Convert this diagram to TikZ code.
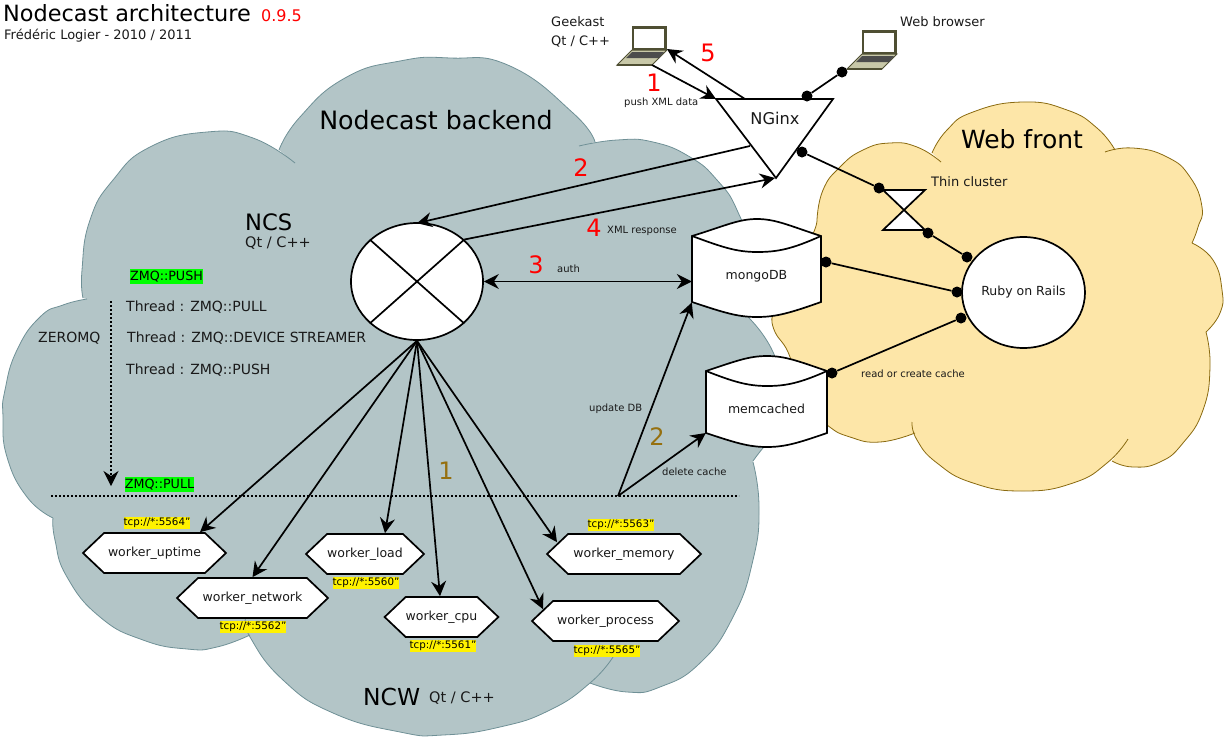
\documentclass[tikz,border=0pt]{standalone}
\usepackage{fontspec}
\setmainfont{DejaVu Sans}
\usetikzlibrary{shapes.geometric,shapes.symbols,arrows.meta,calc}
\definecolor{cloudgrey}{HTML}{B3C5C7}
\definecolor{cloudgreyline}{HTML}{6F9096}
\definecolor{cloudyellow}{HTML}{FDE6A8}
\definecolor{cloudyellowline}{HTML}{8A6A10}
\definecolor{stepbrown}{HTML}{96700F}
\definecolor{lapdark}{HTML}{4F4F33}
\definecolor{lapbase}{HTML}{C8C8A8}
\newcommand\fsz[1]{\fontsize{#1}{#1}\selectfont}
\newcommand\lapicon[2]{%
  \begin{scope}[shift={(#1,#2)}]
    \fill[lapdark] (0,0) rectangle (35,24);
    \fill[white] (2,2.5) rectangle (32,22);
    \filldraw[draw=lapdark,fill=lapbase,line width=1pt] (-15,39) -- (0,24) -- (35,24) -- (20,39) -- cycle;
    \fill[black!70] (-6,32) -- (0,26) -- (32,26) -- (27,32) -- cycle;
    \draw[lapdark,line width=1.6pt] (-15,39) -- (20,39);
  \end{scope}}
\tikzset{
  x=1pt,y=-1pt,
  txt/.style={inner sep=0pt,anchor=west,text=black!90},
  mid/.style={inner sep=0pt,anchor=center,text=black!90},
  num/.style={inner sep=0pt,anchor=center,font=\fsz{24}},
  reddig/.style={num,text=red},
  browndig/.style={num,text=stepbrown},
  conn/.style={line width=1.7pt},
  arr/.style={conn,-{Stealth[length=15pt,width=15pt,inset=5pt]}},
  dblarr/.style={conn,{Stealth[length=15pt,width=15pt,inset=5pt]}-{Stealth[length=15pt,width=15pt,inset=5pt]}},
  dashline/.style={line width=1.3pt,dash pattern=on 2.4pt off 1.6pt},
  dot/.style={circle,fill=black,inner sep=0pt,minimum size=11pt},
  hexa/.style={shape=signal,signal to=east and west,signal pointer angle=87,draw,fill=white,line width=1.7pt,
    inner sep=0pt,minimum height=40pt,font=\fsz{12.5},text=black!90},
  tcp/.style={fill=yellow,inner sep=0pt,minimum width=66pt,minimum height=12pt,font=\fsz{10.3},text=black},
  zmq/.style={fill=green,inner sep=0pt,minimum height=14.5pt,font=\fsz{12.7},text=black},
  hub/.style={ellipse,draw,fill=white,line width=1.7pt,inner sep=0pt},
  store/.style={inner sep=0pt,font=\fsz{12.5},text=black!90},
  lobe/.style={smooth,tension=0.85},
}
% grey cloud lobes
\def\gA{-- plot[lobe] coordinates {(83,298) (82,270) (90,220) (113,180) (150,147) (207,132) (253,138) (295,163)}}
\def\gB{-- plot[lobe] coordinates {(279,150) (300,117) (345,78) (400,61) (450,58) (510,66) (573,113) (595,142)}}
\def\gC{-- plot[lobe] coordinates {(579,146) (617,140) (653,142) (690,157) (717,180) (737,210) (748,250) (749,318)}}
\def\gCb{-- plot[lobe] coordinates {(749,318) (773,352) (786,400) (775,435) (763,448) (753,461)}}
\def\gD{-- plot[lobe] coordinates {(753,462) (759,507) (753,560) (733,617) (700,663) (660,687) (627,692) (590,683)}}
\def\gE{-- plot[lobe] coordinates {(613,657) (590,683) (550,710) (500,727) (443,735) (400,732) (333,713) (283,680) (250,637) (246,618)}}
\def\gF{-- plot[lobe] coordinates {(250,635) (217,647) (187,649) (143,640) (100,617) (67,577) (55,540) (53,518)}}
\def\gG{-- plot[lobe] coordinates {(53,518) (27,497) (7,457) (3,417) (5,390) (17,350) (40,317) (63,305) (87,299)}}
% yellow cloud lobes
\def\yA{-- plot[lobe] coordinates {(817,220) (823,190) (840,167) (863,150) (890,143) (917,147) (941,162)}}
\def\yB{-- plot[lobe] coordinates {(932,153) (947,130) (973,112) (1023,102) (1067,110) (1097,128) (1115,150)}}
\def\yC{-- plot[lobe] coordinates {(1105,152) (1133,148) (1167,157) (1190,177) (1202,207) (1198,227) (1192,243)}}
\def\yD{-- plot[lobe] coordinates {(1192,243) (1213,260) (1222,290) (1220,313) (1206,332)}}
\def\yE{-- plot[lobe] coordinates {(1206,332) (1210,367) (1203,410) (1183,443) (1160,462) (1133,467) (1112,461)}}
\def\yF{-- plot[lobe] coordinates {(1128,439) (1107,463) (1073,483) (1023,491) (973,483) (937,463) (917,440) (912,422)}}
\def\yG{-- plot[lobe] coordinates {(915,433) (880,442) (850,437) (827,425) (800,400) (790,357) (775,332) (772,318)}}
\def\yGb{-- plot[lobe] coordinates {(772,318) (785,280) (810,240) (817,220)}}
\begin{document}
\begin{tikzpicture}
\useasboundingbox (0,0) rectangle (1224,737);
% clouds
\fill[cloudyellow] (817,220) \yA \yB \yC \yD \yE \yF \yG \yGb -- cycle;
\begin{scope}[draw=cloudyellowline,line width=.8pt]
  \draw (817,220) \yA; \draw (932,153) \yB; \draw (1105,152) \yC; \draw (1192,243) \yD;
  \draw (1206,332) \yE; \draw (1128,439) \yF; \draw (915,433) \yG; \draw (772,318) \yGb;
\end{scope}
\fill[cloudgrey] (83,298) \gA \gB \gC \gCb \gD \gE \gF \gG -- cycle;
\begin{scope}[draw=cloudgreyline,line width=.8pt]
  \draw (83,298) \gA; \draw (279,150) \gB; \draw (579,146) \gC; \draw (749,318) \gCb; \draw (753,462) \gD;
  \draw (613,657) \gE; \draw (250,635) \gF; \draw (53,518) \gG;
\end{scope}
% headings
\node[txt,font=\fsz{22.4},text=black] (title) at (3,13) {Nodecast architecture};
\node[txt,font=\fsz{16},text=red] (version) at (261,16) {0.9.5};
\node[txt,font=\fsz{13}] (author) at (4,36) {Frédéric Logier - 2010 / 2011};
\node[mid,font=\fsz{25.3},text=black] (backend) at (436,120) {Nodecast backend};
\node[mid,font=\fsz{25},text=black] (webfront) at (1022,139) {Web front};
\node[txt,font=\fsz{22.6},text=black] (ncslabel) at (245,222) {NCS};
\node[txt,font=\fsz{14.5}] (ncslang) at (245,243) {Qt / C++};
\node[txt,font=\fsz{23.4},text=black] (ncwlabel) at (363,697) {NCW};
\node[txt,font=\fsz{14.5}] (ncwlang) at (429,698) {Qt / C++};
\node[txt,font=\fsz{13}] (geek) at (551,22) {Geekast};
\node[txt,font=\fsz{13}] (geeklang) at (551,42) {Qt / C++};
\node[txt,font=\fsz{13}] (webbrowser) at (900,22) {Web browser};
\node[txt,font=\fsz{13}] (thinlabel) at (931,182) {Thin cluster};
% laptops
\lapicon{632}{26}
\lapicon{862}{30}
\node[inner sep=0pt,minimum width=50pt,minimum height=39pt] (laptopA) at (642,45.5) {};
\node[inner sep=0pt,minimum width=50pt,minimum height=39pt] (laptopB) at (872,49.5) {};
% NGinx triangle
\filldraw[fill=white,draw=black,line width=1.7pt] (716,99) -- (833,99) -- (776,178) -- cycle;
\node[mid,font=\fsz{16.2}] (nginx) at (775,118) {NGinx};
% thin hourglass
\filldraw[fill=white,draw=black,line width=1.7pt] (883,190) -- (925,190) -- (883,230) -- (925,230) -- cycle;
\node[inner sep=0pt,minimum width=42pt,minimum height=40pt] (thin) at (904,210) {};
% data stores
\filldraw[fill=white,draw=black,line width=1.7pt] (692,236) .. controls (725,226) and (738,219) .. (757,219) .. controls (776,219) and (790,226) .. (821,236) -- (821,302) .. controls (790,313) and (776,317) .. (757,317) .. controls (738,317) and (725,313) .. (692,302) -- cycle;
\draw[line width=1.7pt] (692,236) .. controls (722,247) and (736,252) .. (757,252) .. controls (778,252) and (792,249) .. (821,236);
\node[store,minimum width=129pt,minimum height=81pt] (mongo) at (756.5,276.5) {mongoDB};
\filldraw[fill=white,draw=black,line width=1.7pt] (706,371) .. controls (736,361) and (749,356) .. (767,356) .. controls (785,356) and (798,361) .. (827,371) -- (827,433) .. controls (798,443) and (785,447) .. (767,447) .. controls (749,447) and (736,443) .. (706,433) -- cycle;
\draw[line width=1.7pt] (706,371) .. controls (734,382) and (748,386) .. (767,386) .. controls (786,386) and (800,383) .. (827,371);
\node[store,minimum width=121pt,minimum height=76pt] (memc) at (766.5,409) {memcached};
% hubs
\node[hub,minimum width=132pt,minimum height=117pt] (ncs) at (417,281.5) {};
\draw[line width=1.7pt] (ncs.north west) -- (ncs.south east) (ncs.north east) -- (ncs.south west);
\node[hub,minimum width=123pt,minimum height=111pt,font=\fsz{12.5},text=black!90] (ruby) at (1023.5,292.5) {Ruby on Rails};
% workers
\node[hexa,minimum width=143pt] (uptime) at (154.5,553) {worker\_uptime};
\node[hexa,minimum width=151pt] (network) at (252.5,598) {worker\_network};
\node[hexa,minimum width=118pt] (load) at (365,554) {worker\_load};
\node[hexa,minimum width=111pt] (cpu) at (441.5,617) {worker\_cpu};
\node[hexa,minimum width=154pt] (memory) at (624,554) {worker\_memory};
\node[hexa,minimum width=147pt] (process) at (605.5,621) {worker\_process};
% tcp labels
\node[tcp] (t5564) at (157,523) {tcp://*:5564"};
\node[tcp] (t5560) at (366,583) {tcp://*:5560"};
\node[tcp] (t5562) at (253,627) {tcp://*:5562"};
\node[tcp] (t5561) at (443,646) {tcp://*:5561"};
\node[tcp] (t5563) at (621,525) {tcp://*:5563"};
\node[tcp] (t5565) at (607,651) {tcp://*:5565"};
% zmq labels
\node[zmq,minimum width=73pt] (zpush) at (166.5,276.5) {ZMQ::PUSH};
\node[zmq,minimum width=69pt] (zpull) at (159.5,484.5) {ZMQ::PULL};
\node[txt,font=\fsz{14}] (th1) at (126,307) {Thread : ZMQ::PULL};
\node[txt,font=\fsz{14}] (th2) at (127,338) {Thread : ZMQ::DEVICE STREAMER};
\node[txt,font=\fsz{14}] (th3) at (126,370) {Thread : ZMQ::PUSH};
\node[txt,font=\fsz{14}] (zeromq) at (38,338) {ZEROMQ};
% small labels
\node[txt,font=\fsz{10}] (lpush) at (624,103) {push XML data};
\node[txt,font=\fsz{10}] (lauth) at (557,269) {auth};
\node[txt,font=\fsz{10}] (lxml) at (607,231) {XML response};
\node[txt,font=\fsz{10}] (lupd) at (589,409) {update DB};
\node[txt,font=\fsz{10}] (ldel) at (662,472) {delete cache};
\node[txt,font=\fsz{10}] (lread) at (861,374) {read or create cache};
% step numbers
\node[reddig] (n1) at (654,83) {1};
\node[reddig] (n5) at (708,53) {5};
\node[reddig] (n2) at (581,168) {2};
\node[reddig] (n4) at (594,228) {4};
\node[reddig] (n3) at (536,265) {3};
\node[browndig] (b1) at (446,471) {1};
\node[browndig] (b2) at (657,437) {2};
% bus
\coordinate (busL) at (51,496);
\coordinate (busR) at (739,496);
\coordinate (busM) at (618,496);
\coordinate (threadTop) at (111,301);
\coordinate (threadEnd) at (111,486);
\draw[dashline] (busL) -- (busR);
\draw[dashline,-{Stealth[length=15pt,width=15pt,inset=5pt]}] (threadTop) -- (threadEnd);
% request arrows
\draw[arr] ($(laptopA)+(10,19.5)$) -- ($(nginx)+(-59,-19)$);
\draw[arr] ($(nginx)+(-30,-19)$) -- ($(laptopA)+(25,3.5)$);
\draw[arr] ($(nginx)+(-25,28)$) -- ($(ncs.north)+(0,1)$);
\draw[arr] (ncs.north east) -- ($(nginx)+(0,60)$);
\draw[dblarr] (ncs.east) -- (ncs.east -| mongo.west);
% workers
\draw[arr] (ncs.south) -- ($(uptime.north)+(45.5,0)$);
\draw[arr] (ncs.south) -- (network.north);
\draw[arr] (ncs.south) -- ($(load.north)+(20,0)$);
\draw[arr] (ncs.south) -- ($(cpu.north)+(-1.5,0)$);
\draw[arr] (ncs.south) -- ($(memory.north)+(-67,9)$);
\draw[arr] (ncs.south) -- ($(process.north)+(-62.5,9)$);
\draw[arr] (busM) -- ($(mongo.west)+(0,26)$);
\draw[arr] (busM) -- ($(memc.west)+(0,24)$);
% dots
\node[dot] (d1) at (807,96) {};
\node[dot] (d2) at (842,72) {};
\node[dot] (d3) at (802,152) {};
\node[dot] (d4) at (879,188) {};
\node[dot] (d5) at (928,233) {};
\node[dot] (d6) at (967,257) {};
\node[dot] (d7) at (826,262) {};
\node[dot] (d8) at (957,292) {};
\node[dot] (d9) at (832,373) {};
\node[dot] (d10) at (961,318) {};
\draw[conn] (d1) -- (d2);
\draw[conn] (d3) -- (d4);
\draw[conn] (d5) -- (d6);
\draw[conn] (d7) -- (d8);
\draw[conn] (d9) -- (d10);
\end{tikzpicture}
\end{document}
